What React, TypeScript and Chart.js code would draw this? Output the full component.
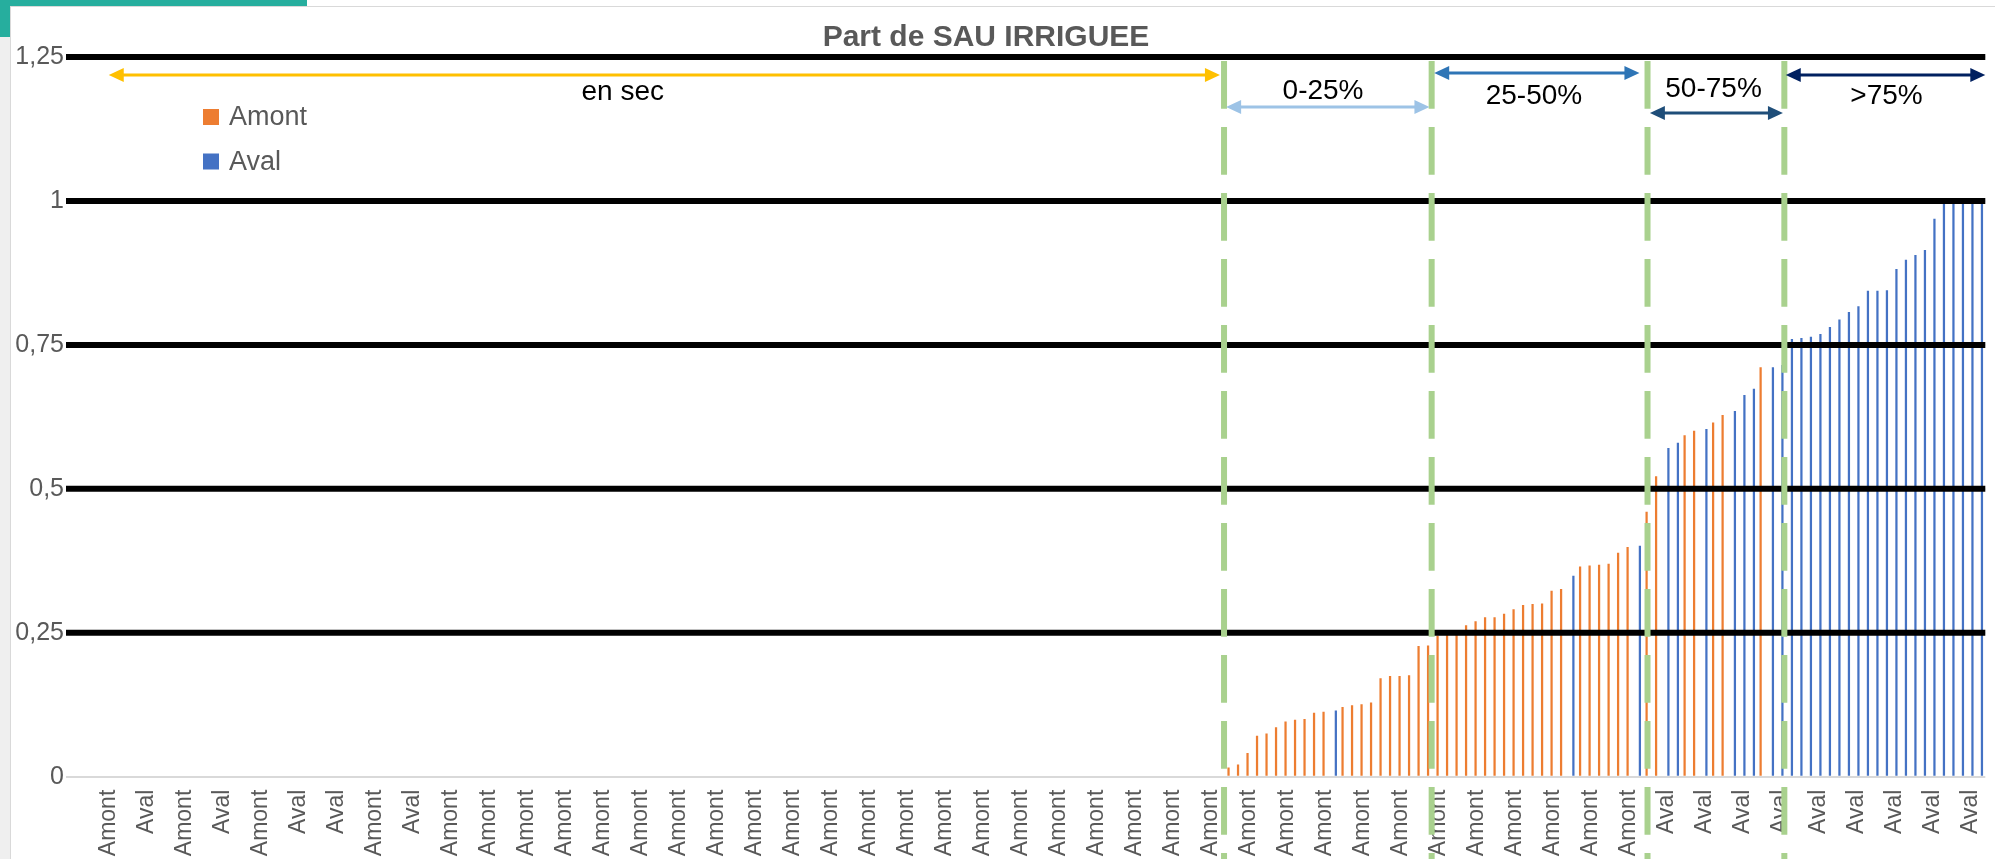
import React, { useEffect, useRef } from 'react';
import { Chart, registerables } from 'chart.js';

Chart.register(...registerables);

// ---------- DATA ----------
const categories: string[] = [
  '', 'Amont', 'Aval', 'Amont',
  'Amont', 'Amont', 'Aval', 'Aval', 'Aval', 'Amont', 'Amont', 'Aval', 'Amont', 'Aval',
  'Amont', 'Aval', 'Aval', 'Amont', 'Aval', 'Amont', 'Amont', 'Aval', 'Amont', 'Aval',
  'Aval', 'Amont', 'Aval', 'Aval', 'Aval', 'Amont', 'Amont', 'Aval', 'Amont', 'Aval',
  'Amont', 'Amont', 'Aval', 'Amont', 'Amont', 'Amont', 'Amont', 'Amont', 'Amont', 'Amont',
  'Amont', 'Amont', 'Amont', 'Amont', 'Amont', 'Amont', 'Amont', 'Amont', 'Amont', 'Amont',
  'Amont', 'Amont', 'Amont', 'Amont', 'Amont', 'Amont', 'Amont', 'Amont', 'Amont', 'Amont',
  'Amont', 'Amont', 'Amont', 'Amont', 'Amont', 'Amont', 'Amont', 'Amont', 'Amont', 'Amont',
  'Amont', 'Amont', 'Amont', 'Amont', 'Amont', 'Amont', 'Amont', 'Amont', 'Amont', 'Amont',
  'Amont', 'Amont', 'Amont', 'Amont', 'Amont', 'Amont', 'Amont', 'Amont', 'Amont', 'Amont',
  'Amont', 'Amont', 'Amont', 'Amont', 'Amont', 'Amont', 'Amont', 'Amont', 'Amont', 'Amont',
  'Amont', 'Amont', 'Amont', 'Amont', 'Amont', 'Amont', 'Amont', 'Amont', 'Amont', 'Amont',
  'Amont', 'Amont', 'Amont', 'Amont', 'Amont', 'Amont', 'Amont', 'Amont',
  // first irrigated categories
  'Amont', 'Amont', 'Amont', 'Amont', 'Amont', 'Amont', 'Amont', 'Amont', 'Amont', 'Amont',
  'Amont', 'Aval', 'Amont', 'Amont', 'Amont', 'Amont', 'Amont', 'Amont', 'Amont', 'Amont',
  'Amont', 'Amont', 'Amont', 'Amont', 'Amont', 'Amont', 'Amont', 'Amont', 'Amont', 'Amont',
  'Amont', 'Amont', 'Amont', 'Amont', 'Amont', 'Amont', 'Aval', 'Amont', 'Amont', 'Amont',
  'Amont', 'Amont', 'Amont', 'Aval', 'Amont', 'Amont', 'Aval', 'Aval', 'Amont', 'Amont',
  'Aval', 'Amont', 'Amont', 'Aval', 'Aval', 'Aval', 'Amont', 'Aval', 'Aval', 'Aval',
  'Aval', 'Aval', 'Aval', 'Aval', 'Aval', 'Aval', 'Aval', 'Aval', 'Aval', 'Aval',
  'Aval', 'Aval', 'Aval', 'Aval', 'Aval', 'Aval', 'Aval', 'Aval', 'Aval', 'Aval',
];

const values: number[] = [
  0, 0, 0, 0,
  0, 0, 0, 0, 0, 0, 0, 0, 0, 0,
  0, 0, 0, 0, 0, 0, 0, 0, 0, 0,
  0, 0, 0, 0, 0, 0, 0, 0, 0, 0,
  0, 0, 0, 0, 0, 0, 0, 0, 0, 0,
  0, 0, 0, 0, 0, 0, 0, 0, 0, 0,
  0, 0, 0, 0, 0, 0, 0, 0, 0, 0,
  0, 0, 0, 0, 0, 0, 0, 0, 0, 0,
  0, 0, 0, 0, 0, 0, 0, 0, 0, 0,
  0, 0, 0, 0, 0, 0, 0, 0, 0, 0,
  0, 0, 0, 0, 0, 0, 0, 0, 0, 0,
  0, 0, 0, 0, 0, 0, 0, 0, 0, 0,
  0, 0, 0, 0, 0, 0, 0, 0,
  // first irrigated categories
  0.016, 0.021, 0.041, 0.071, 0.075, 0.086, 0.096, 0.099, 0.1, 0.111,
  0.113, 0.115, 0.121, 0.124, 0.126, 0.129, 0.171, 0.175, 0.175, 0.176,
  0.227, 0.228, 0.245, 0.248, 0.253, 0.263, 0.27, 0.277, 0.277, 0.283,
  0.291, 0.298, 0.3, 0.301, 0.323, 0.326, 0.349, 0.365, 0.367, 0.368,
  0.37, 0.389, 0.399, 0.401, 0.46, 0.522, 0.571, 0.58, 0.593, 0.601,
  0.604, 0.615, 0.628, 0.635, 0.663, 0.674, 0.711, 0.711, 0.715, 0.76,
  0.762, 0.764, 0.769, 0.781, 0.794, 0.807, 0.817, 0.844, 0.844, 0.845,
  0.882, 0.898, 0.906, 0.915, 0.969, 1, 1, 1, 1, 1,
];

const seriesNames = ['Amont', 'Aval'];
const seriesColors = ['#ED7D31', '#4472C4'];

const yTickValues = [0, 0.25, 0.5, 0.75, 1, 1.25];
const yTickLabels = ['0', '0,25', '0,5', '0,75', '1', '1,25'];
const blackLineValues = [0.25, 0.5, 0.75, 1, 1.25];

const titleText = 'Part de SAU IRRIGUEE';

// Range annotations (x in category-index units, y in value units)
const rangeNames = ['en sec', '0-25%', '25-50%', '50-75%', '>75%'];
const rangeStart = [4.0, 121.6, 143.5, 166.2, 180.5];
const rangeEnd = [120.95, 143.0, 165.1, 180.2, 201.5];
const rangeArrowY = [1.2187, 1.163, 1.222, 1.1527, 1.2187];
const rangeLabelX = [58.1, 131.8, 154.0, 172.9, 191.1];
const rangeLabelY = [1.189, 1.191, 1.182, 1.194, 1.182];
const rangeColors = ['#FFC000', '#9DC3E6', '#2E75B6', '#1F4E79', '#002060'];
const thresholdIdx = [121.38, 143.23, 165.95, 180.35];

const FONT = '"Liberation Sans", Arial, sans-serif';

function arrowHead(ctx: CanvasRenderingContext2D, x: number, y: number, dir: number) {
  const len = 15;
  const half = 7;
  ctx.beginPath();
  ctx.moveTo(x, y);
  ctx.lineTo(x - dir * len, y - half);
  ctx.lineTo(x - dir * len, y + half);
  ctx.closePath();
  ctx.fill();
}

const overlayPlugin = {
  id: 'overlay',
  afterDatasetsDraw(chart: any) {
    const { ctx, chartArea, scales } = chart;
    const x = scales.x;
    const y = scales.y;
    ctx.save();
    // black horizontal lines
    ctx.strokeStyle = '#000000';
    ctx.lineWidth = 6;
    for (const v of blackLineValues) {
      const py = y.getPixelForValue(v);
      ctx.beginPath();
      ctx.moveTo(chartArea.left, py);
      ctx.lineTo(chartArea.right, py);
      ctx.stroke();
    }
    // green dashed threshold lines
    ctx.strokeStyle = '#A9D18E';
    ctx.lineWidth = 6;
    ctx.setLineDash([47.7, 18.3]);
    const gTop = y.getPixelForValue(1.25) + 4;
    for (const gi of thresholdIdx) {
      const px = x.getPixelForValue(gi);
      ctx.beginPath();
      ctx.moveTo(px, gTop);
      ctx.lineTo(px, chart.height + 20);
      ctx.stroke();
    }
    ctx.setLineDash([]);
    // arrows + labels
    for (let i = 0; i < rangeNames.length; i++) {
      const x1 = x.getPixelForValue(rangeStart[i]);
      const x2 = x.getPixelForValue(rangeEnd[i]);
      const py = y.getPixelForValue(rangeArrowY[i]);
      ctx.strokeStyle = rangeColors[i];
      ctx.fillStyle = rangeColors[i];
      ctx.lineWidth = 3;
      ctx.beginPath();
      ctx.moveTo(x1 + 10, py);
      ctx.lineTo(x2 - 10, py);
      ctx.stroke();
      arrowHead(ctx, x1, py, -1);
      arrowHead(ctx, x2, py, 1);
      ctx.fillStyle = '#000000';
      ctx.font = `28px ${FONT}`;
      ctx.textAlign = 'center';
      ctx.textBaseline = 'middle';
      ctx.fillText(rangeNames[i], x.getPixelForValue(rangeLabelX[i]), y.getPixelForValue(rangeLabelY[i]));
    }
    // title
    ctx.fillStyle = '#595959';
    ctx.font = `bold 30px ${FONT}`;
    ctx.textAlign = 'center';
    ctx.textBaseline = 'middle';
    ctx.fillText(titleText, 986, 38);
    // legend
    ctx.font = `27px ${FONT}`;
    ctx.textAlign = 'left';
    for (let s = 0; s < seriesNames.length; s++) {
      const cy = 117 + s * 44.5;
      ctx.fillStyle = seriesColors[s];
      ctx.fillRect(203, cy - 8, 16, 16);
      ctx.fillStyle = '#595959';
      ctx.fillText(seriesNames[s], 229, cy + 1);
    }
    ctx.restore();
  },
};

export default function App() {
  const ref = useRef<HTMLCanvasElement>(null);
  useEffect(() => {
    document.body.style.margin = '0';
    const canvas = ref.current;
    if (!canvas) return;
    const chart = new Chart(canvas, {
      type: 'bar',
      data: {
        labels: categories,
        datasets: seriesNames.map((name, s) => ({
          label: name,
          data: values.map((v, i) => (categories[i] === name ? v : null)),
          backgroundColor: seriesColors[s],
          borderWidth: 0,
          categoryPercentage: 0.59,
          barPercentage: 0.8,
        })),
      },
      options: {
        animation: false,
        responsive: false,
        devicePixelRatio: 1,
        layout: { padding: { top: 57, right: 9.7, left: 0, bottom: 0 } },
        plugins: {
          legend: { display: false },
          title: { display: false },
          tooltip: { enabled: false },
        },
        scales: {
          x: {
            grid: { display: false, drawTicks: false },
            border: { display: false },
            ticks: {
              autoSkip: false,
              minRotation: 90,
              maxRotation: 90,
              padding: 13,
              color: '#595959',
              font: { family: FONT, size: 23 },
              callback: (_v: any, i: number) => (i % 4 === 0 ? categories[i] : ''),
            },
            afterFit: (s: any) => {
              s.height = 82.3;
              s.paddingLeft = 0;
              s.paddingRight = 0;
            },
          },
          y: {
            min: 0,
            max: 1.25,
            afterBuildTicks: (s: any) => {
              s.ticks = yTickValues.map((v) => ({ value: v }));
            },
            grid: { color: '#D9D9D9', lineWidth: 2, drawTicks: false },
            border: { display: false },
            ticks: {
              padding: 2,
              color: '#595959',
              font: { family: FONT, size: 25 },
              callback: (v: any) => yTickLabels[yTickValues.indexOf(Number(v))],
            },
            afterFit: (s: any) => {
              s.width = 66;
              s.paddingTop = 0;
              s.paddingBottom = 0;
            },
          },
        },
      } as any,
      plugins: [overlayPlugin],
    });
    return () => chart.destroy();
  }, []);

  return (
    <div style={{ position: 'relative', width: 1995, height: 859, background: '#ffffff', overflow: 'hidden' }}>
      <div style={{ position: 'absolute', left: 0, top: 0, width: 10, height: 859, background: '#EFEFEF', borderRight: '1px solid #D9D9D9' }} />
      <div style={{ position: 'absolute', left: 10, top: 6, width: 1985, height: 1, background: '#D9D9D9' }} />
      <div style={{ position: 'absolute', left: 0, top: 0, width: 307, height: 6, background: '#26AE9E' }} />
      <div style={{ position: 'absolute', left: 0, top: 0, width: 10, height: 37, background: '#26AE9E' }} />
      <canvas ref={ref} width={1995} height={859} style={{ position: 'absolute', left: 0, top: 0, width: 1995, height: 859 }} />
    </div>
  );
}
